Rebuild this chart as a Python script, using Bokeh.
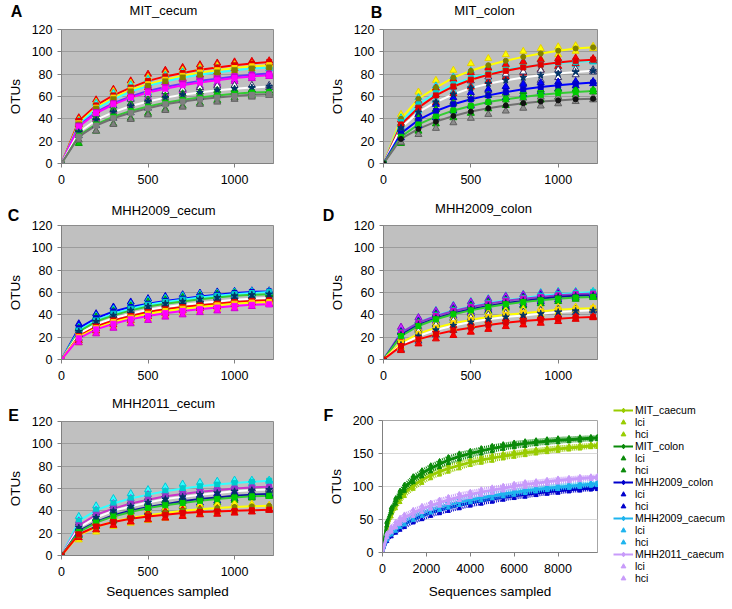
from bokeh.plotting import figure
from bokeh.models import Range1d, Legend, LegendItem, FixedTicker, Label, GridBox
from bokeh.embed import file_html
from bokeh.resources import INLINE

FONT = "Liberation Sans"
NAN = float("nan")

# ---------------- data: panels A-E (x = sequences sampled) ----------------
x_seq = [0, 100, 200, 300, 400, 500, 600, 700, 800, 900, 1000, 1100, 1200]
x_ticks_small = [0, 500, 1000]
y_ticks_small = [0, 20, 40, 60, 80, 100, 120]

# A: MIT_cecum
A_red = [0, 38, 52, 61, 68, 74, 78, 81, 84, 86, 88, 89.5, 91]
A_red_lo = [0, 35, 47, 55.5, 62, 68, 72.5, 76, 79.5, 82, 85, 87.5, 90]
A_red_hi = [0, 41, 57, 66.5, 74, 80, 83.5, 86, 88.5, 90, 91, 91.5, 92]
A_yel = [0, 36, 50, 59, 66, 71, 75, 78.5, 81.5, 83.5, 85.5, 87, 88]
A_yel_lo = [0, 33, 45, 53.5, 60, 65, 69.5, 73.5, 77, 79.5, 82.5, 85, 87]
A_yel_hi = [0, 39, 55, 64.5, 72, 77, 80.5, 83.5, 86, 87.5, 88.5, 89, 89]
A_cya = [0, 35, 49, 57.5, 64.5, 69.5, 73.5, 77, 79.5, 81.5, 83.5, 85, 86]
A_cya_lo = [0, 32, 44, 52, 58.5, 63.5, 68, 72, 75, 77.5, 80.5, 83, 85]
A_cya_hi = [0, 38, 54, 63, 70.5, 75.5, 79, 82, 84, 85.5, 86.5, 87, 87]
A_vio = [0, 34, 46, 54, 60, 65, 68.5, 71.5, 74, 76, 78, 79.5, 80.5]
A_vio_lo = [0, 31, 41, 48.5, 54, 59, 63, 66.5, 69.5, 72, 75, 77.5, 79.5]
A_vio_hi = [0, 37, 51, 59.5, 66, 71, 74, 76.5, 78.5, 80, 81, 81.5, 81.5]
A_mag = [0, 33, 45, 53, 59, 63.5, 67, 70, 72.5, 74.5, 76.5, 78, 79]
A_mag_lo = [0, 30, 40, 47.5, 53, 57.5, 61.5, 65, 68, 70.5, 73.5, 76, 78]
A_mag_hi = [0, 36, 50, 58.5, 65, 69.5, 72.5, 75, 77, 78.5, 79.5, 80, 80]
A_whi = [0, 28, 39, 46, 51.5, 55.5, 59, 61.5, 63.5, 65.5, 67, 68, 69]
A_whi_lo = [0, 25, 34, 40.5, 45.5, 49.5, 53.5, 56.5, 59, 61.5, 64, 66, 68]
A_whi_hi = [0, 31, 44, 51.5, 57.5, 61.5, 64.5, 66.5, 68, 69.5, 70, 70, 70]
A_gre = [0, 25, 35, 42, 47, 51, 54.5, 57, 59, 61, 62.5, 63.5, 64]
A_gre_lo = [0, 18, 29, 35.5, 40.5, 45, 48.5, 51.5, 54, 56.5, 59, 61, 63]
A_gre_hi = [0, 30, 41, 48.5, 53.5, 57, 60.5, 62.5, 64, 65.5, 66, 66, 65]
A_gra = [0, 24, 34, 40.5, 45.5, 49.5, 53, 55.5, 57.5, 59, 60.5, 61.5, 62]
A_gra_lo = [0, 21, 29, 35, 39.5, 43.5, 47.5, 50.5, 53, 55, 57.5, 59.5, 61]
A_gra_hi = [0, 27, 39, 46, 51.5, 55.5, 58.5, 60.5, 62, 63, 63.5, 63.5, 63]

# B: MIT_colon
B_yel = [0, 40, 58, 68, 77, 83, 88, 92, 95.5, 98.5, 101, 103, 104]
B_yel_lo = [0, 36, 52, 61.5, 70.5, 76.5, 82, 86.5, 90.5, 94, 97.5, 100.5, 103]
B_yel_hi = [0, 44, 64, 74.5, 83.5, 89.5, 94, 97.5, 100.5, 103, 104.5, 105.5, 105]
B_cya = [0, 37, 53, 63, 71, 76.5, 80.5, 84, 86.5, 88.5, 90, 91, 92]
B_cya_lo = [0, 33, 47, 56.5, 64.5, 70, 74.5, 78.5, 81.5, 84, 86.5, 88.5, 91]
B_cya_hi = [0, 41, 59, 69.5, 77.5, 83, 86.5, 89.5, 91.5, 93, 93.5, 93.5, 93]
B_red = [0, 35, 50, 61, 69, 75, 79.5, 83, 86, 88.5, 90.5, 92, 93]
B_red_lo = [0, 31, 44, 54.5, 62.5, 68.5, 73.5, 77.5, 81, 84, 87, 89.5, 92]
B_red_hi = [0, 39, 56, 67.5, 75.5, 81.5, 85.5, 88.5, 91, 93, 94, 94.5, 94]
B_whi = [0, 32, 46, 55, 62, 67.5, 71.5, 74.5, 77, 79, 80.5, 82, 83]
B_whi_lo = [0, 28, 40, 48.5, 55.5, 61, 65.5, 69, 72, 74.5, 77, 79.5, 82]
B_whi_hi = [0, 36, 52, 61.5, 68.5, 74, 77.5, 80, 82, 83.5, 84, 84.5, 84]
B_blu = [0, 27, 39, 47, 53, 57.5, 61, 64, 66.5, 68.5, 70, 71.5, 72.5]
B_blu_lo = [0, 23, 34, 41, 47, 51.5, 55.5, 59, 62, 64.5, 67, 69.5, 71.5]
B_blu_hi = [0, 31, 44, 53, 59, 63.5, 66.5, 69, 71, 72.5, 73, 73.5, 73.5]
B_gre = [0, 24, 35, 42, 47.5, 51.5, 55, 57.5, 59.5, 61.5, 63, 64, 65]
B_gre_lo = [0, 18, 29, 35.5, 41, 45, 49, 52, 54.5, 57, 59.5, 61.5, 64]
B_gre_hi = [0, 30, 41, 48.5, 54, 58, 61, 63, 64.5, 66, 66.5, 66.5, 66]
B_gra = [0, 22, 31, 37.5, 42.5, 46.5, 49.5, 52, 54, 55.5, 56.5, 57.5, 58]
B_gra_lo = [0, 19, 26, 31.5, 36.5, 40.5, 44, 47, 49.5, 51.5, 53.5, 55.5, 57]
B_gra_hi = [0, 25, 36, 43.5, 48.5, 52.5, 55, 57, 58.5, 59.5, 59.5, 59.5, 59]

# C: MHH2009_cecum
C_blu = [0, 28, 37, 43, 47, 50, 52.5, 54.5, 56.5, 58, 59.5, 60.5, 61]
C_blu_lo = [0, 25, 33.5, 39.5, 43.5, 46.5, 49.5, 51.5, 53.5, 55.5, 57.5, 59, 60.5]
C_blu_hi = [0, 32, 41, 47, 51.5, 54.5, 56.5, 58, 59.5, 60.5, 61, 61.5, 61.5]
C_cya = [0, 26, 35, 41, 45.5, 49, 51.5, 53.5, 55.5, 57, 58.5, 59.5, 60.5]
C_cya_lo = [0, 23, 31.5, 37, 41.5, 45, 48, 50, 52.5, 54.5, 56.5, 58, 60]
C_cya_hi = [0, 29, 39, 45, 49.5, 53, 55, 57, 58.5, 59.5, 60.5, 61, 61]
C_gre = [0, 25, 34, 39.5, 44, 47.5, 50, 52, 54, 55.5, 57, 58, 58.5]
C_gre_lo = [0, 22, 30, 35.5, 40, 43.5, 46.5, 48.5, 51, 52.5, 54.5, 56.5, 58]
C_gre_hi = [0, 28, 38, 43.5, 48, 51.5, 53.5, 55.5, 57, 58.5, 59.5, 59.5, 59]
C_whi = [0, 23, 31.5, 37, 41, 44.5, 47, 49, 50.5, 52, 53.5, 54.5, 55]
C_whi_lo = [0, 19, 27.5, 33, 37, 40.5, 43.5, 45.5, 47.5, 49, 51, 53, 54.5]
C_whi_hi = [0, 27, 35.5, 41, 45, 48.5, 50.5, 52.5, 53.5, 55, 56, 56, 55.5]
C_red = [0, 21, 29.5, 35, 39, 42.5, 45, 47, 48.5, 50, 51.5, 52.5, 53]
C_red_lo = [0, 17, 25.5, 31, 35, 38.5, 41, 43.5, 45.5, 47, 49, 51, 52.5]
C_red_hi = [0, 25, 33.5, 39, 43, 46.5, 49, 50.5, 51.5, 53, 54, 54, 53.5]
C_yel = [0, 20, 28, 33.5, 37.5, 41, 43.5, 45.5, 47, 48.5, 50, 51, 51.5]
C_yel_lo = [0, 15, 23.5, 29, 33, 36.5, 39, 41.5, 43.5, 45, 47, 49, 51]
C_yel_hi = [0, 25, 32.5, 38, 42, 45.5, 48, 49.5, 50.5, 52, 53, 53, 52.5]
C_mag = [0, 19, 27, 32, 36, 39, 41.5, 43.5, 45, 46.5, 48, 49, 49.5]
C_mag_lo = [0, 15, 23, 28, 32, 35, 38, 40, 42, 43.5, 45.5, 47.5, 49]
C_mag_hi = [0, 23, 31, 36, 40, 43, 45, 47, 48, 49.5, 50.5, 50.5, 50]

# D: MHH2009_colon
D_cya = [0, 24, 33, 39.5, 44, 47.5, 50.5, 53, 55, 57, 58.5, 59.5, 60.5]
D_cya_lo = [0, 21, 29, 35, 39.5, 43, 46.5, 49, 51.5, 54, 56, 58, 60]
D_cya_hi = [0, 28, 37.5, 44, 48.5, 52, 54.5, 57, 58.5, 60, 61, 61, 61]
D_mag = [0, 24, 33, 39, 43.5, 47, 50, 52.5, 54.5, 56, 57.5, 58.5, 59]
D_mag_lo = [0, 20, 29, 34.5, 39, 42.5, 46, 48.5, 51, 53, 55, 57, 58.5]
D_mag_hi = [0, 29, 37.5, 43.5, 48, 51.5, 54, 56.5, 58, 59, 60, 60, 59.5]
D_blu = [0, 22, 31, 37, 41.5, 45, 48, 50.5, 52.5, 54.5, 56, 57, 57.5]
D_blu_lo = [0, 19, 27.5, 33, 37.5, 41, 44, 47, 49, 51.5, 53.5, 55.5, 57]
D_blu_hi = [0, 25, 34.5, 41, 45.5, 49, 52, 54, 56, 57.5, 58.5, 58.5, 58]
D_gre = [0, 21, 30, 36, 40.5, 44, 47, 49.5, 51.5, 53, 54.5, 55.5, 56]
D_gre_lo = [0, 18, 26.5, 32, 36.5, 40, 43, 46, 48, 50, 52, 54, 55.5]
D_gre_hi = [0, 24, 33.5, 40, 44.5, 48, 51, 53, 55, 56, 57, 57, 56.5]
D_yel = [0, 15, 23, 28.5, 32.5, 35.5, 38, 40, 41.5, 43, 44.5, 45.5, 46]
D_yel_lo = [0, 11, 18.5, 24, 28, 31, 34, 36, 38, 40, 42, 44, 45.5]
D_yel_hi = [0, 19, 27.5, 33, 37, 40, 42, 44, 45, 46, 47, 47, 46.5]
D_whi = [0, 13, 21, 26.5, 30.5, 33.5, 36, 38, 39.5, 41, 42.5, 43.5, 44]
D_whi_lo = [0, 9, 16.5, 22, 26, 29.5, 32, 34.5, 36.5, 38, 40, 42, 43.5]
D_whi_hi = [0, 17, 25.5, 31, 35, 37.5, 40, 41.5, 42.5, 44, 45, 45, 44.5]
D_red = [0, 12, 18, 22.5, 26, 28.5, 31, 33, 34.5, 35.5, 36.5, 37.5, 38]
D_red_lo = [0, 8, 14, 18.5, 21.5, 24.5, 27, 29.5, 31, 32.5, 34, 36, 37.5]
D_red_hi = [0, 16, 22, 26.5, 30.5, 32.5, 35, 36.5, 38, 38.5, 39, 39, 38.5]

# E: MHH2011_cecum
E_cya = [0, 31, 40.5, 46.5, 51, 54.5, 57.5, 60, 62, 63.5, 65, 66, 67]
E_cya_lo = [0, 28, 36.5, 42, 46.5, 50, 53.5, 56, 58.5, 60.5, 62.5, 64.5, 66.5]
E_cya_hi = [0, 35, 44.5, 51, 55.5, 59, 61.5, 64, 65.5, 66.5, 67.5, 67.5, 67.5]
E_pur = [0, 27, 36.5, 42, 46.5, 50, 53, 55, 57, 58.5, 60, 61, 61.5]
E_pur_lo = [0, 23, 32.5, 37.5, 42, 45.5, 49, 51, 53.5, 55.5, 57.5, 59.5, 61]
E_pur_hi = [0, 31, 40.5, 46.5, 51, 54.5, 57, 59, 60.5, 61.5, 62.5, 62.5, 62]
E_whi = [0, 25, 34, 40, 44, 47.5, 50.5, 52.5, 54.5, 56, 57.5, 58.5, 59]
E_whi_lo = [0, 21, 30, 35.5, 39.5, 43, 46.5, 48.5, 51, 53, 55, 57, 58.5]
E_whi_hi = [0, 29, 38, 44.5, 48.5, 52, 54.5, 56.5, 58, 59, 60, 60, 59.5]
E_blu = [0, 22, 30, 36, 40, 43.5, 46, 48.5, 50.5, 52, 53.5, 54.5, 55]
E_blu_lo = [0, 19, 26.5, 32, 36, 39.5, 42.5, 45, 47, 49, 51, 53, 54.5]
E_blu_hi = [0, 25, 33.5, 40, 44, 47.5, 49.5, 52, 54, 55, 56, 56, 55.5]
E_gre = [0, 21, 29.5, 35, 39, 42.5, 45, 47, 49, 50.5, 52, 53, 53.5]
E_gre_lo = [0, 18, 26, 31, 35, 38.5, 41, 43.5, 45.5, 47.5, 49.5, 51.5, 53]
E_gre_hi = [0, 24, 33, 39, 43, 46.5, 49, 50.5, 52.5, 53.5, 54.5, 54.5, 54]
E_yel = [0, 18, 25.5, 30.5, 33.5, 36, 38, 40, 41.5, 42.5, 43.5, 44, 44.5]
E_yel_lo = [0, 14, 21, 26, 29, 31.5, 33.5, 35.5, 37.5, 39, 40.5, 42, 44]
E_yel_hi = [0, 22, 30, 35, 38, 40.5, 42.5, 44.5, 45.5, 46, 46.5, 46, 45]
E_red = [0, 19, 26, 30, 33, 35, 36.5, 38, 39, 39.5, 40, 40.5, 41]
E_red_lo = [0, 16, 23, 27, 30, 32, 33.5, 35, 36.5, 37, 38, 39, 40.5]
E_red_hi = [0, 22, 29, 33, 36, 38, 39.5, 41, 41.5, 42, 42, 42, 41.5]

# ---------------- data: panel F ----------------
x_F = [0, 200, 400, 600, 800, 1000, 1400, 1800, 2200, 2600, 3000, 3500, 4000,
       4500, 5000, 5500, 6000, 6500, 7000, 7500, 8000, 8500, 9000, 9500, 9800]
x_ticks_F = [0, 2000, 4000, 6000, 8000]
y_ticks_F = [0, 50, 100, 150, 200]
F_names = ["MIT_caecum", "MIT_colon", "MHH2009_colon", "MHH2009_caecum", "MHH2011_caecum"]

F_mit_caecum = [0, 38, 58, 71, 81, 90, 101, 110, 117, 122.5, 127, 132, 136.5, 140, 143, 146, 148.5, 151, 153, 155, 157, 158.5, 160, 161.5, 162]
F_mit_caecum_lo = [0, 35, 54, 66.5, 76, 85, 96, 105, 112, 117.5, 122, 127, 132, 135.5, 138.5, 142, 144.5, 147, 149.5, 151.5, 153.5, 155.5, 157, 159, 159.5]
F_mit_caecum_hi = [0, 41, 62, 75.5, 86, 95, 106, 115, 122, 127.5, 132, 137, 141, 144.5, 147.5, 150, 152.5, 155, 156.5, 158.5, 160.5, 161.5, 163, 164, 164.5]
F_mit_colon = [0, 44, 64, 78, 89, 98, 111, 120, 127.5, 134, 140, 145.5, 150, 154, 157.5, 160.5, 163, 165, 167, 168.5, 170, 171, 172, 173, 173.5]
F_mit_colon_lo = [0, 41, 60, 73.5, 84, 93, 106, 115, 122.5, 129, 135, 140.5, 145.5, 149.5, 153, 156.5, 159, 161, 163.5, 165, 166.5, 168, 169, 170.5, 171]
F_mit_colon_hi = [0, 47, 68, 82.5, 94, 103, 116, 125, 132.5, 139, 145, 150.5, 154.5, 158.5, 162, 164.5, 167, 169, 170.5, 172, 173.5, 174, 175, 175.5, 176]
F_mhh09_colon = [0, 20, 28, 34, 39, 43, 50, 55, 60, 64, 67.5, 71.5, 75, 78, 81, 83.5, 86, 88, 90, 92, 93.5, 95, 96.3, 97.4, 98]
F_mhh09_colon_lo = [0, 17, 24, 29.5, 34, 38, 45, 50, 55, 59, 62.5, 66.5, 70.5, 73.5, 76.5, 79.5, 82, 84, 86.5, 88.5, 90, 92, 93.3, 94.9, 95.5]
F_mhh09_colon_hi = [0, 23, 32, 38.5, 44, 48, 55, 60, 65, 69, 72.5, 76.5, 79.5, 82.5, 85.5, 87.5, 90, 92, 93.5, 95.5, 97, 98, 99.3, 99.9, 100.5]
F_mhh09_caecum = [0, 22, 31, 37, 43, 47, 54, 60, 65, 69, 72.5, 76.5, 80, 83, 86, 88.5, 91, 93.5, 95.5, 97.5, 99, 100.5, 102, 103.3, 104]
F_mhh09_caecum_lo = [0, 19, 27, 32.5, 38, 42, 49, 55, 60, 64, 67.5, 71.5, 75.5, 78.5, 81.5, 84.5, 87, 89.5, 92, 94, 95.5, 97.5, 99, 100.8, 101.5]
F_mhh09_caecum_hi = [0, 25, 35, 41.5, 48, 52, 59, 65, 70, 74, 77.5, 81.5, 84.5, 87.5, 90.5, 92.5, 95, 97.5, 99, 101, 102.5, 103.5, 105, 105.8, 106.5]
F_mhh11_caecum = [0, 26, 35, 42, 48, 53, 60, 66, 71, 75.5, 79.5, 84, 88, 91.5, 94.5, 97.5, 100.5, 103, 105, 107, 109, 110.5, 112, 113.3, 114]
F_mhh11_caecum_lo = [0, 23, 31, 37.5, 43, 48, 55, 61, 66, 70.5, 74.5, 79, 83.5, 87, 90, 93.5, 96.5, 99, 101.5, 103.5, 105.5, 107.5, 109, 110.8, 111.5]
F_mhh11_caecum_hi = [0, 29, 39, 46.5, 53, 58, 65, 71, 76, 80.5, 84.5, 89, 92.5, 96, 99, 101.5, 104.5, 107, 108.5, 110.5, 112.5, 113.5, 115, 115.8, 116.5]

# panel letters and titles
LETTERS = ["A", "B", "C", "D", "E", "F"]
TITLES = ["MIT_cecum", "MIT_colon", "MHH2009_cecum", "MHH2009_colon", "MHH2011_cecum"]

# ---------------- styles ----------------
# (line colour, main marker, main marker colour, triangle fill, triangle edge)
STY = {
    "red": ("#FF0000", "square", "#E00000", "#FF0000", "#E00000"),
    "yellow": ("#FFFF00", "square", "#FFD700", "#FFFF00", "#E6D200"),
    "yellow_olive": ("#FFFF00", "circle", "#808000", "#FFFF00", "#E6D200"),
    "cyan": ("#33FFFF", "square", "#00CCCC", "#33FFFF", "#00C8D8"),
    "cyan_olive": ("#33FFFF", "square", "#808000", "#33FFFF", "#00C8D8"),
    "violet": ("#6633FF", "square", "#CC00CC", "#CC33FF", "#B020E0"),
    "magenta": ("#FF00FF", "square", "#FF00FF", "#FF00FF", "#D000D0"),
    "purple": ("#9933CC", "square", "#CC00CC", "#CC33FF", "#9900CC"),
    "purple_white": ("#CC33CC", "square", "#9933CC", "#FFFFFF", "#9933CC"),
    "white": ("#FFFFFF", "star", "#003366", "#FFFFFF", "#333366"),
    "green": ("#33CC33", "square", "#00CC00", "#00CC00", "#009900"),
    "green_navy": ("#33CC33", "star", "#003366", "#00CC00", "#009900"),
    "gray": ("#707070", "square", "#808080", "#808080", "#606060"),
    "gray_black": ("#707070", "circle", "#111111", "#8C8C8C", "#606060"),
    "blue": ("#0000FF", "square", "#0000CC", "#0000FF", "#0000CC"),
    "navy_blue": ("#1010A0", "star", "#003366", "#2233FF", "#0000CC"),
}

PANEL_A = [(A_red, A_red_lo, A_red_hi, "red"), (A_yel, A_yel_lo, A_yel_hi, "yellow"),
           (A_cya, A_cya_lo, A_cya_hi, "cyan_olive"), (A_vio, A_vio_lo, A_vio_hi, "violet"),
           (A_mag, A_mag_lo, A_mag_hi, "magenta"), (A_whi, A_whi_lo, A_whi_hi, "white"),
           (A_gre, A_gre_lo, A_gre_hi, "green"), (A_gra, A_gra_lo, A_gra_hi, "gray")]
PANEL_B = [(B_yel, B_yel_lo, B_yel_hi, "yellow_olive"), (B_cya, B_cya_lo, B_cya_hi, "cyan"),
           (B_red, B_red_lo, B_red_hi, "red"), (B_whi, B_whi_lo, B_whi_hi, "white"),
           (B_blu, B_blu_lo, B_blu_hi, "blue"), (B_gre, B_gre_lo, B_gre_hi, "green"),
           (B_gra, B_gra_lo, B_gra_hi, "gray_black")]
PANEL_C = [(C_blu, C_blu_lo, C_blu_hi, "blue"), (C_cya, C_cya_lo, C_cya_hi, "cyan"),
           (C_gre, C_gre_lo, C_gre_hi, "green_navy"), (C_whi, C_whi_lo, C_whi_hi, "white"),
           (C_red, C_red_lo, C_red_hi, "red"), (C_yel, C_yel_lo, C_yel_hi, "yellow"),
           (C_mag, C_mag_lo, C_mag_hi, "magenta")]
PANEL_D = [(D_cya, D_cya_lo, D_cya_hi, "cyan"), (D_mag, D_mag_lo, D_mag_hi, "purple"),
           (D_blu, D_blu_lo, D_blu_hi, "navy_blue"), (D_gre, D_gre_lo, D_gre_hi, "green"),
           (D_yel, D_yel_lo, D_yel_hi, "yellow"), (D_whi, D_whi_lo, D_whi_hi, "white"),
           (D_red, D_red_lo, D_red_hi, "red")]
PANEL_E = [(E_cya, E_cya_lo, E_cya_hi, "cyan"), (E_pur, E_pur_lo, E_pur_hi, "purple_white"),
           (E_whi, E_whi_lo, E_whi_hi, "white"), (E_blu, E_blu_lo, E_blu_hi, "navy_blue"),
           (E_gre, E_gre_lo, E_gre_hi, "green"), (E_yel, E_yel_lo, E_yel_hi, "yellow_olive"),
           (E_red, E_red_lo, E_red_hi, "red")]

F_COLORS = ["#99CC00", "#0A8A0A", "#0000CC", "#1EB4EE", "#C89BFA"]
F_SERIES = [(F_mit_caecum, F_mit_caecum_lo, F_mit_caecum_hi),
            (F_mit_colon, F_mit_colon_lo, F_mit_colon_hi),
            (F_mhh09_colon, F_mhh09_colon_lo, F_mhh09_colon_hi),
            (F_mhh09_caecum, F_mhh09_caecum_lo, F_mhh09_caecum_hi),
            (F_mhh11_caecum, F_mhh11_caecum_lo, F_mhh11_caecum_hi)]

# text anchor positions (page pixels) for letters and titles
LETTER_POS = [(16, 11), (376, 12), (13, 215), (328, 215), (13, 415), (328, 415)]
TITLE_POS = [(163, 10), (484, 10), (163, 210), (483, 208), (163, 403)]


def make_fig(width, height, bl, br, bt, bb, xr, yr, xt, yt, bg, grid, xlabel):
    p = figure(width=width, height=height, x_range=Range1d(*xr), y_range=Range1d(*yr),
               output_backend="svg", toolbar_location=None,
               min_border_left=bl, min_border_right=br, min_border_top=bt, min_border_bottom=bb)
    p.frame_align = False
    p.background_fill_color = bg
    p.border_fill_color = "white"
    p.outline_line_color = "#8C8C8C"
    p.xgrid.visible = False
    p.ygrid.grid_line_color = grid
    p.xaxis.ticker = FixedTicker(ticks=xt)
    p.yaxis.ticker = FixedTicker(ticks=yt)
    for ax in (p.xaxis[0], p.yaxis[0]):
        ax.axis_line_color = "#808080"
        ax.major_tick_line_color = "#808080"
        ax.major_tick_out = 4
        ax.major_tick_in = 0
        ax.minor_tick_line_color = None
        ax.major_label_text_font = FONT
        ax.major_label_text_font_size = "12.5px"
        ax.major_label_text_color = "black"
        ax.major_label_standoff = 5
        ax.axis_label_text_font = FONT
        ax.axis_label_text_font_size = "13.5px"
        ax.axis_label_text_font_style = "normal"
        ax.axis_label_text_color = "black"
    p.xaxis.major_label_standoff = 7
    p.yaxis.axis_label = "OTUs"
    p.yaxis.axis_label_standoff = 6
    if xlabel:
        p.xaxis.axis_label = "Sequences sampled"
        p.xaxis.axis_label_standoff = 5
    return p


def draw_small(p, series):
    for v, lo, hi, key in series:
        p.line(x_seq, v, line_color=STY[key][0], line_width=2)
    for v, lo, hi, key in series:
        lc, mk, mc, tf, te = STY[key]
        p.scatter(x_seq, lo, marker="triangle", size=7, fill_color=tf, line_color=te, line_width=1)
        p.scatter(x_seq, hi, marker="triangle", size=7, fill_color=tf, line_color=te, line_width=1)
    for v, lo, hi, key in series:
        lc, mk, mc, tf, te = STY[key]
        p.scatter(x_seq, v, marker=mk, size=5 if mk != "star" else 7, fill_color=mc, line_color=mc)


GRAY_BG = "#C0C0C0"
GRID = "#9C9C9C"
XR = (0, 1225)
YR = (0, 120)

# columns: left 0..325, right 325..728 ; rows: 0..190, 190..386, 386..601
pA = make_fig(325, 190, 61, 52, 29, 27, XR, YR, x_ticks_small, y_ticks_small, GRAY_BG, GRID, False)
draw_small(pA, PANEL_A)
pB = make_fig(403, 190, 58, 131, 29, 27, XR, YR, x_ticks_small, y_ticks_small, GRAY_BG, GRID, False)
draw_small(pB, PANEL_B)
pC = make_fig(325, 196, 61, 52, 35, 27, XR, YR, x_ticks_small, y_ticks_small, GRAY_BG, GRID, False)
draw_small(pC, PANEL_C)
pD = make_fig(403, 196, 58, 131, 35, 27, XR, YR, x_ticks_small, y_ticks_small, GRAY_BG, GRID, False)
draw_small(pD, PANEL_D)
pE = make_fig(325, 215, 61, 52, 35, 46, XR, YR, x_ticks_small, y_ticks_small, GRAY_BG, GRID, True)
draw_small(pE, PANEL_E)

pF = make_fig(403, 215, 54, 131, 34, 49, (0, 9800), (0, 200), x_ticks_F, y_ticks_F, "white", "#D9D9D9", True)
pF.outline_line_color = "#A6A6A6"
pF.xaxis.axis_label_standoff = 8
for (v, lo, hi), col in zip(F_SERIES, F_COLORS):
    pF.line(x_F, lo, line_color=col, line_width=2.5, line_dash="1 1")
    pF.line(x_F, hi, line_color=col, line_width=2.5, line_dash="1 1")
    pF.scatter(x_F, lo, marker="triangle", size=4, fill_color=col, line_color=col)
    pF.scatter(x_F, hi, marker="triangle", size=4, fill_color=col, line_color=col)
    pF.line(x_F, v, line_color=col, line_width=3)
    pF.scatter(x_F, v, marker="diamond", size=6, fill_color=col, line_color=col)

# transparent overlay covering the whole page, for panel letters, titles and the legend of F
ov = figure(width=728, height=601, x_range=Range1d(0, 728), y_range=Range1d(601, 0),
            output_backend="svg", toolbar_location=None, x_axis_type=None, y_axis_type=None,
            min_border_left=0, min_border_right=0, min_border_top=0, min_border_bottom=0)
ov.frame_align = False
ov.background_fill_alpha = 0
ov.border_fill_alpha = 0
ov.outline_line_color = None
for txt, (lx, ly) in zip(LETTERS, LETTER_POS):
    ov.add_layout(Label(x=lx, y=ly, text=txt, text_font=FONT, text_font_size="16px",
                        text_font_style="bold", text_align="center", text_baseline="middle",
                        text_color="black"))
for txt, (tx, ty) in zip(TITLES, TITLE_POS):
    ov.add_layout(Label(x=tx, y=ty, text=txt, text_font=FONT, text_font_size="13px",
                        text_align="center", text_baseline="middle", text_color="black"))

# legend key renderers (one undrawn NaN point each, only used for the legend swatches)
items = []
for col, name in zip(F_COLORS, F_names):
    r_ln = ov.line(x=[NAN], y=[NAN], line_color=col, line_width=2)
    r_mk = ov.scatter(x=[NAN], y=[NAN], marker="diamond", size=5, fill_color=col, line_color=col)
    r_lo = ov.scatter(x=[NAN], y=[NAN], marker="triangle", size=3, fill_color=col, line_color=col)
    r_hi = ov.scatter(x=[NAN], y=[NAN], marker="triangle", size=3, fill_color=col, line_color=col)
    items.append(LegendItem(label=name, renderers=[r_ln, r_mk]))
    items.append(LegendItem(label="lci", renderers=[r_lo]))
    items.append(LegendItem(label="hci", renderers=[r_hi]))
legend = Legend(items=items, location=(613, 17), orientation="vertical",
                label_text_font=FONT, label_text_font_size="10.5px", label_text_color="black",
                label_height=12, glyph_height=12, glyph_width=20, label_standoff=2,
                spacing=0, padding=0, margin=0, border_line_color=None,
                background_fill_alpha=0)
ov.add_layout(legend)

grid = GridBox(children=[(pA, 0, 0), (pB, 0, 1), (pC, 1, 0), (pD, 1, 1), (pE, 2, 0), (pF, 2, 1),
                         (ov, 0, 0, 3, 2)], spacing=0)
open("out.html", "w").write(file_html(grid, INLINE))
